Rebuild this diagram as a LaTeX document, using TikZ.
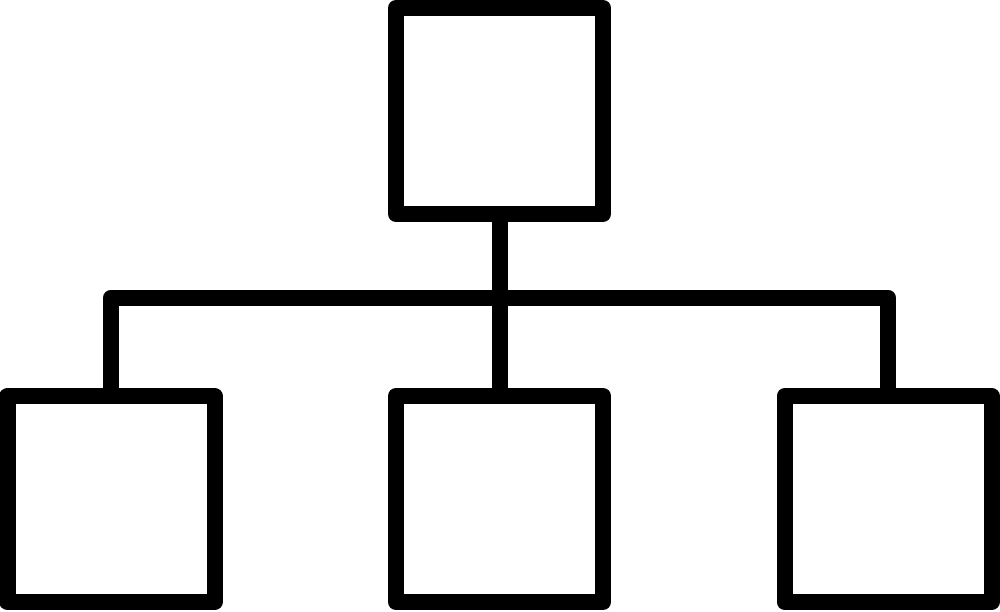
\documentclass[tikz,border=0pt]{standalone}
\begin{document}
\begin{tikzpicture}[x=1pt,y=-1pt,
  box/.style={draw=black,fill=white,line width=16pt,line join=round,rectangle,inner sep=0pt,minimum width=207pt,minimum height=206pt},
  link/.style={draw=black,line width=16pt,line join=round}]
\useasboundingbox (0,0) rectangle (1000,611);
\node[box] (top) at (499.5,111) {};
\node[box] (left) at (111,499) {};
\node[box] (mid) at (499.5,499) {};
\node[box] (right) at (888,499) {};
\coordinate (hub) at (499.5,297.5);
\draw[link] (top.south) -- (hub);
\draw[link] (hub) -- (mid.north);
\draw[link] (left.north) |- (hub) -| (right.north);
\end{tikzpicture}
\end{document}
